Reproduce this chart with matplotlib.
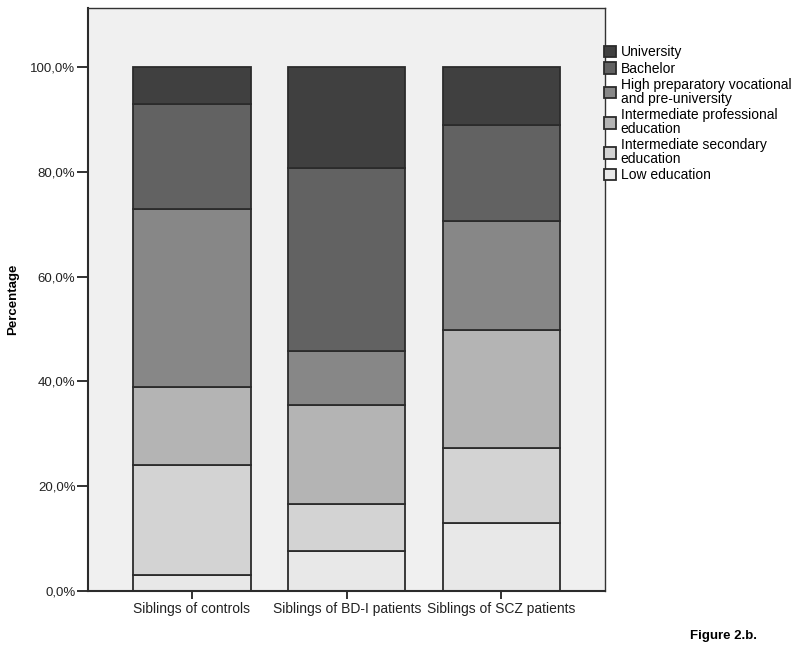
import matplotlib
matplotlib.use("Agg")
import matplotlib.pyplot as plt
import numpy as np
from matplotlib.ticker import FuncFormatter

plt.rcParams["font.family"] = ["Liberation Sans", "DejaVu Sans"]

groups = ["Siblings of controls", "Siblings of BD-I patients", "Siblings of SCZ patients"]
levels = [
    "Low education",
    "Intermediate secondary\neducation",
    "Intermediate professional\neducation",
    "High preparatory vocational\nand pre-university",
    "Bachelor",
    "University",
]
# percentages per group, stacking order bottom -> top
low_edu = [3.0, 7.6, 13.0]
inter_secondary = [21.0, 9.1, 14.3]
inter_professional = [15.0, 18.8, 22.5]
high_preparatory = [34.0, 10.3, 20.8]
bachelor = [20.0, 35.0, 18.3]
university = [7.0, 19.2, 11.1]

series = [low_edu, inter_secondary, inter_professional, high_preparatory, bachelor, university]
colors = ["#e8e8e8", "#d3d3d3", "#b4b4b4", "#878787", "#626262", "#404040"]

fig = plt.figure(figsize=(8, 6.55), dpi=100)
ax = fig.add_axes([0.11, 0.0977, 0.64625, 0.8901])
ax.set_facecolor("#f0f0f0")

x = np.arange(len(groups))
bottom = np.zeros(len(groups))
handles = []
for vals, col, lab in zip(series, colors, levels):
    b = ax.bar(x, vals, width=0.757, bottom=bottom, color=col,
               edgecolor="#2b2b2b", linewidth=1.3, label=lab)
    handles.append(b)
    bottom += np.array(vals)

ax.set_xlim(-0.672, 2.669)
ax.set_ylim(0, 111.3)
ax.set_yticks([0, 20, 40, 60, 80, 100])
ax.yaxis.set_major_formatter(FuncFormatter(lambda v, p: f"{v:.1f}%".replace(".", ",")))
ax.set_xticks(x)
ax.set_xticklabels(groups, fontsize=10, color="#222222")
ax.tick_params(axis="y", labelsize=9.5, colors="#222222", length=8, width=1.3, pad=1)
ax.tick_params(axis="x", length=6, width=1.3, pad=2, colors="#222222")
ax.set_ylabel("Percentage", fontsize=9.5, fontweight="bold", labelpad=8)

for s in ["left", "bottom"]:
    ax.spines[s].set_color("#2b2b2b")
    ax.spines[s].set_linewidth(1.5)
for s in ["top", "right"]:
    ax.spines[s].set_color("#333333")
    ax.spines[s].set_linewidth(1.0)

leg = ax.legend(handles[::-1], levels[::-1], loc="upper left",
                bbox_to_anchor=(0.998, 0.936), frameon=False, fontsize=10,
                handlelength=0.9, handleheight=0.9, handletextpad=0.3,
                labelspacing=0.17, borderaxespad=0, borderpad=0)
for t in leg.get_texts():
    t.set_linespacing(0.98)

fig.text(0.862, 0.024, "Figure 2.b.", fontsize=9.5, fontweight="bold", ha="left")

fig.savefig("out.png", dpi=100)
